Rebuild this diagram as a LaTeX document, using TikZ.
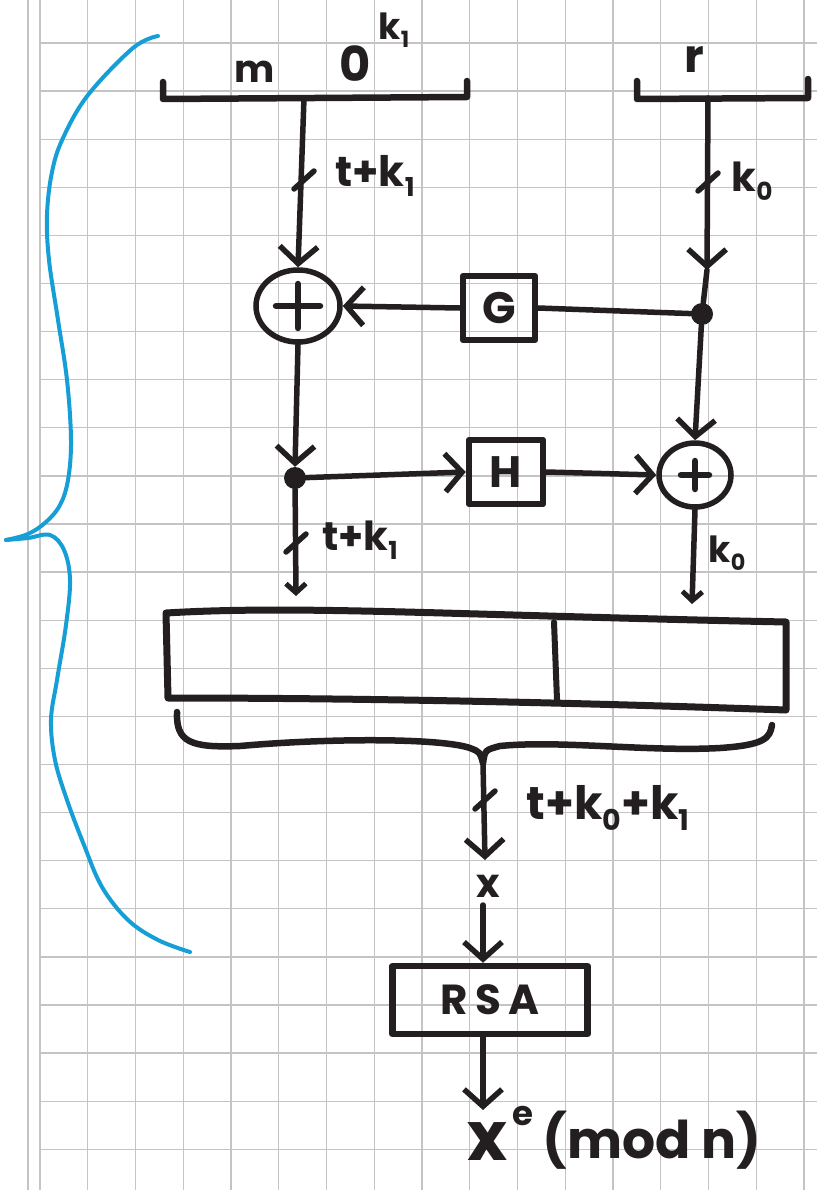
\documentclass[tikz,border=0pt]{standalone}
\usepackage{fontspec}
\setmainfont{Poppins}
\usetikzlibrary{arrows.meta,shapes.geometric,calc}

% small index set below / beside a letter
\newcommand{\idx}[1]{\raisebox{-0.22em}{\scalebox{0.62}{#1}}}

\definecolor{inkc}{RGB}{35,31,32}
\definecolor{gridc}{RGB}{196,196,196}
\definecolor{bluec}{RGB}{22,158,214}

\tikzset{
  ink/.style={draw=inkc, line width=5.5pt, line cap=round, line join=round},
  arr/.style={ink, -{Straight Barb[length=17pt,width=38pt,line width=5.5pt]}},
  arrs/.style={ink, -{Straight Barb[length=9pt,width=20pt,line width=5pt]}},
  fbox/.style={draw=inkc, line width=6.5pt, rectangle, inner sep=0pt, line join=round},
  xor/.style={ellipse, draw=inkc, line width=5.5pt, inner sep=0pt,
    path picture={\draw[inkc, line width=6.5pt, line cap=round]
      ([xshift=-#1pt]path picture bounding box.center) -- ([xshift=#1pt]path picture bounding box.center)
      ([yshift=-#1pt]path picture bounding box.center) -- ([yshift=#1pt]path picture bounding box.center);}},
  dot/.style={circle, fill=inkc, inner sep=0pt, minimum size=22pt},
  txt/.style={text=inkc, inner sep=0pt},
  gline/.style={draw=gridc, line width=1.3pt},
}

\begin{document}
\begin{tikzpicture}[x=1pt,y=-1pt]
\useasboundingbox (0,0) rectangle (817,1190);
\fill[white] (0,0) rectangle (817,1190);

% squared paper
\foreach \i in {0,...,16} \draw[gline] ({40+47.75*\i},0) -- ({40+47.75*\i},1190);
\foreach \j in {0,...,23} \draw[gline] (40,{43+48.1*\j}) -- (817,{43+48.1*\j});
\draw[gline] (28,0) -- (28,1190);

% blue brace on the left
\draw[bluec, line width=4pt, line cap=round]
  plot[smooth, tension=0.6] coordinates {(158,36) (133,48) (88,95) (63,138) (52,172) (47,215)
    (49,260) (58,320) (67,380) (71,440) (68,480) (60,505) (46,522) (28,534) (6,540)};
\draw[bluec, line width=4pt, line cap=round]
  plot[smooth, tension=0.6] coordinates {(6,540) (28,538) (50,535) (64,550) (70,580) (66,625)
    (57,680) (51,720) (55,760) (67,800) (84,845) (102,887) (128,920) (158,940) (190,952)};

% input blocks  m 0^k1  and  r
\draw[ink, line width=6.5pt] (163,82) -- (163,99) -- (467,97) -- (467,81);
\coordinate (mtop) at (304,98);
\node[txt, font=\bfseries\fontsize{38}{38}\selectfont] (lm) at (255,72) {m};
\node[txt, font=\bfseries\fontsize{48}{48}\selectfont] (lzero) at (355,64) {0};
\node[txt, font=\bfseries\fontsize{36}{36}\selectfont] (lkone) at (394,30) {k\idx{1}};

\draw[ink, line width=6.5pt] (637,81) -- (637,99) -- (808,98) -- (808,79);
\coordinate (rtop) at (708,98);
\node[txt, font=\bfseries\fontsize{46}{46}\selectfont] (lr) at (694,60) {r};

% Feistel-like core
\node[xor=22, minimum width=84pt, minimum height=72pt] (xorL) at (298,306) {};
\node[xor=14, minimum width=72pt, minimum height=64pt] (xorR) at (695,475) {};
\node[fbox, minimum width=72pt, minimum height=64pt] (G) at (499,308) {};
\node[txt, font=\bfseries\fontsize{44}{44}\selectfont] (lG) at (G.center) {G};
\node[fbox, minimum width=74pt, minimum height=64pt] (H) at (506,472) {};
\node[txt, font=\bfseries\fontsize{44}{44}\selectfont] (lH) at (H.center) {H};
\node[dot] (dotR) at (702,314) {};
\node[dot] (dotL) at (295,478) {};
\coordinate (rtip) at (707,270);

\draw[arr] (mtop) -- (xorL.north);
\draw[ink] (304,180) +(-10,9) -- +(10,-9);
\node[txt, font=\bfseries\fontsize{42}{42}\selectfont] (ltka) at (375,176) {t+k\idx{1}};

\draw[arr] (rtop) -- (rtip);
\draw[ink] (rtip) -- (dotR);
\draw[ink] (708,182) +(-10,9) -- +(10,-9);
\node[txt, font=\bfseries\fontsize{40}{40}\selectfont] (lkoa) at (752,181) {k\idx{0}};

\draw[ink] (G.east) -- (dotR);
\draw[arr] (G.west) -- (xorL.east);
\draw[arr] (dotR) -- (xorR.north);
\draw[arr] (xorL.south) -- (dotL.north);
\draw[arr] (dotL) -- (H.west);
\draw[arr] (H.east) -- (xorR.west);

% outputs of the core
\coordinate (lbot) at (296,596);
\coordinate (rbot) at (692,604);
\draw[arrs] (dotL) -- (lbot);
\draw[ink] (296,543) +(-10,9) -- +(10,-9);
\node[txt, font=\bfseries\fontsize{40}{40}\selectfont] (ltkb) at (360,540) {t+k\idx{1}};
\draw[arrs] (xorR.south) -- (rbot);
\node[txt, font=\bfseries\fontsize{36}{36}\selectfont] (lkob) at (727,553) {k\idx{0}};

% concatenated block
\draw[ink, line width=7pt] (166,613) .. controls (300,605) and (450,615) .. (786,622)
  -- (786,710) .. controls (500,700) and (300,698) .. (168,698) -- cycle;
\draw[ink, line width=6pt] (554,622) -- (557,700);

% brace collecting the block
\coordinate (btip) at (483,763);
\draw[ink, line width=6.5pt] (177,712) .. controls (176,742) and (190,748) .. (240,746)
  .. controls (330,738) and (440,738) .. (470,748) .. controls (480,752) .. (btip);
\draw[ink, line width=6.5pt] (btip) .. controls (485,750) .. (500,746)
  .. controls (560,740) and (650,752) .. (720,748) .. controls (765,745) and (770,738) .. (772,725);
\coordinate (xtop) at (485,860);
\draw[arr] (btip) -- (xtop);
\draw[ink] (485,800) +(-10,9) -- +(10,-9);
\node[txt, font=\bfseries\fontsize{46}{46}\selectfont] (ltkk) at (608,808) {t+k\idx{0}+k\idx{1}};
\node[txt, font=\bfseries\fontsize{40}{40}\selectfont] (lx) at (488,886) {x};

% RSA step
\node[fbox, minimum width=195pt, minimum height=68pt] (rsa) at (490,1000) {};
\node[txt, font=\bfseries\fontsize{42}{42}\selectfont] (lrsa) at (rsa.center) {R\,S\,A};
\coordinate (xin) at (483,905);
\draw[arr] (xin) -- (rsa.north -| xin);
\coordinate (xout) at (483,1110);
\draw[arr] (rsa.south -| xout) -- (xout);

\node[txt, font=\bfseries\fontsize{68}{68}\selectfont] (lxe) at (487,1142) {x};
\node[txt, font=\bfseries\fontsize{34}{34}\selectfont] (le) at (523,1116) {e};
\node[txt, font=\bfseries\fontsize{52}{52}\selectfont] (lmod) at (652,1140) {(mod n)};
\end{tikzpicture}
\end{document}
